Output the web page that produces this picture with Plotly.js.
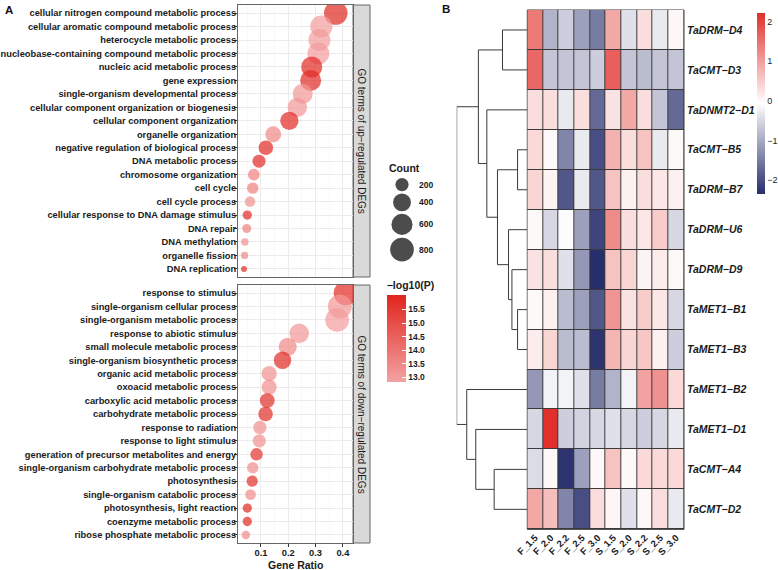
<!DOCTYPE html>
<html>
<head>
<meta charset="utf-8">
<script src="https://cdn.plot.ly/plotly-3.0.1.min.js"></script>
<style>html,body{margin:0;padding:0;background:#fff;} #chart{width:778px;height:570px;}</style>
</head>
<body>
<div id="chart"></div>
<script>
// ---------- Panel A data ----------
const upTerms = ["cellular nitrogen compound metabolic process","cellular aromatic compound metabolic process","heterocycle metabolic process","nucleobase-containing compound metabolic process","nucleic acid metabolic process","gene expression","single-organism developmental process","cellular component organization or biogenesis","cellular component organization","organelle organization","negative regulation of biological process","DNA metabolic process","chromosome organization","cell cycle","cell cycle process","cellular response to DNA damage stimulus","DNA repair","DNA methylation","organelle fission","DNA replication"];
const upRatio = [0.374,0.321,0.314,0.310,0.286,0.282,0.253,0.233,0.204,0.145,0.118,0.093,0.074,0.070,0.060,0.050,0.048,0.041,0.040,0.038];
const upCount = [785,674,659,651,600,592,531,489,428,305,248,195,155,147,126,105,101,86,84,80];
const upLogP = [16.0,13.0,13.0,13.0,15.9,15.9,13.1,13.1,15.9,13.5,15.9,15.9,13.7,13.7,13.3,15.9,13.7,13.3,13.5,15.9];

const downTerms = ["response to stimulus","single-organism cellular process","single-organism metabolic process","response to abiotic stimulus","small molecule metabolic process","single-organism biosynthetic process","organic acid metabolic process","oxoacid metabolic process","carboxylic acid metabolic process","carbohydrate metabolic process","response to radiation","response to light stimulus","generation of precursor metabolites and energy","single-organism carbohydrate metabolic process","photosynthesis","single-organism catabolic process","photosynthesis, light reaction","coenzyme metabolic process","ribose phosphate metabolic process"];
const downRatio = [0.411,0.389,0.379,0.240,0.198,0.179,0.130,0.130,0.123,0.117,0.096,0.094,0.084,0.070,0.068,0.062,0.050,0.050,0.045];
const downCount = [863,817,796,504,416,376,273,273,258,246,202,197,176,147,143,130,105,105,95];
const downLogP = [15.9,13.1,13.0,13.1,13.5,15.9,13.3,13.3,15.8,15.8,13.3,13.3,15.7,13.4,15.8,13.4,15.9,15.9,13.4];

const countLegend = [200,400,600,800];
const ratioTicks = [0.1,0.2,0.3,0.4];
const logPTicks = [13.0,13.5,14.0,14.5,15.0,15.5];

// ---------- Panel B data ----------
const genes = ["TaDRM−D4","TaCMT−D3","TaDNMT2−D1","TaCMT−B5","TaDRM−B7","TaDRM−U6","TaDRM−D9","TaMET1−B1","TaMET1−B3","TaMET1−B2","TaMET1−D1","TaCMT−A4","TaCMT−D2"];
const samples = ["F_1.5","F_2.0","F_2.2","F_2.5","F_3.0","S_1.5","S_2.0","S_2.2","S_2.5","S_3.0"];
const expr = [
 [1.4,-0.9,-0.6,-1.1,-1.5,0.9,-0.4,0.3,-0.3,0.02],
 [1.6,-0.7,-0.7,-0.7,-0.6,1.7,-0.7,-0.8,-0.7,-0.7],
 [0.3,0.3,-0.3,0.3,-1.7,0.25,0.9,0.3,-0.7,-1.7],
 [0.35,0.0,-1.4,-0.3,-2.0,0.8,0.3,0.6,-0.3,0.0],
 [0.4,0.05,-1.9,-0.3,-1.9,0.6,0.1,0.3,0.2,0.1],
 [0.0,-0.5,-0.1,-1.1,-2.1,1.2,0.3,0.2,0.5,-0.5],
 [0.25,0.3,-0.4,-1.2,-2.35,0.6,0.4,0.05,0.15,0.0],
 [0.0,0.1,-0.8,-1.1,-1.9,1.1,0.25,0.5,0.2,-0.5],
 [0.15,0.4,-0.8,-0.8,-2.3,0.75,0.4,0.55,0.1,-0.6],
 [-1.2,-0.2,-0.2,-0.4,-1.5,-0.9,-0.2,0.95,1.15,0.35],
 [-0.5,2.22,-0.6,-0.55,-0.5,-0.4,-0.5,-0.6,-0.5,-0.3],
 [-0.45,0.02,-2.3,-1.1,0.02,0.6,0.0,0.35,0.35,0.35],
 [0.9,0.65,-1.4,-2.0,0.3,0.03,-0.4,0.02,0.3,-0.3]
];
const heatTicks = [-2,-1,0,1,2];
// hclust-style merges: negative = leaf (row index+1), positive = earlier merge (1-based)
const mergeA = [-1,-4,-8,-7,-6,2,-3,1,-12,-11,-10,8];
const mergeB = [-2,-5,-9,3,4,5,6,7,-13,9,10,11];
const mergeH = [2.47,0.97,0.97,1.53,1.87,2.97,4.03,4.87,3.30,5.13,6.03,7.03];

// ---------- helpers ----------
const W = 778, H = 570;
const PX = p => p / W;
const PY = p => 1 - p / H;
const FONT = "Liberation Sans, Arial, sans-serif";

const allCounts = upCount.concat(downCount);
const cMin = Math.min(...allCounts), cMax = Math.max(...allCounts);
const sizeScale = c => 6 + 18.5 * Math.sqrt(Math.max(0, (c - cMin) / (cMax - cMin)));

// ---------- traces ----------
const traces = [];
traces.push({type:'scatter', mode:'markers', x:upRatio, y:upTerms, xaxis:'x', yaxis:'y',
  marker:{size:upCount.map(sizeScale), color:upLogP, coloraxis:'coloraxis', line:{width:0}}, hoverinfo:'skip'});
traces.push({type:'scatter', mode:'markers', x:downRatio, y:downTerms, xaxis:'x2', yaxis:'y2',
  marker:{size:downCount.map(sizeScale), color:downLogP, coloraxis:'coloraxis', line:{width:0}}, hoverinfo:'skip'});

// size legend (positions computed from key sizes)
const legSizes = countLegend.map(sizeScale);
const legY = [];
let acc = 0;
legSizes.forEach((d,i) => { if (i === 0) acc = d/2 + 2; else acc += (legSizes[i-1] + d)/2 * 1.08 + 1; legY.push(acc); });
traces.push({type:'scatter', mode:'markers', x:countLegend.map(()=>0), y:legY, xaxis:'x5', yaxis:'y5',
  marker:{size:legSizes, color:'#000', line:{width:0}}, hoverinfo:'skip', cliponaxis:false});

// heatmap
const zAll = [].concat(...expr);
const zMin = Math.min(...zAll), zMax = Math.max(...zAll);
traces.push({type:'heatmap', z:expr, x:samples, y:genes, xaxis:'x3', yaxis:'y3', zmin:zMin, zmax:zMax,
  colorscale:[[0,'#272E6C'],[0.5,'#FFFFFF'],[1,'#E1302B']], xgap:1, ygap:1, hoverinfo:'skip',
  colorbar:{x:PX(757), xanchor:'left', xpad:0, y:PY(194), yanchor:'bottom', ypad:0, len:181, lenmode:'pixels', thickness:8,
    outlinewidth:0, tickvals:heatTicks, ticktext:heatTicks.map(v => v<0 ? '−'+Math.abs(v) : String(v)),
    ticks:'', ticklabelstandoff:-1, tickfont:{family:FONT, size:9, color:'#222'}}});

// dendrogram from merges
const nodeY = [], nodeH = [];
function childPos(c){ if (c < 0) return {y: -c - 1, h: 0}; return {y: nodeY[c-1], h: nodeH[c-1]}; }
const dx = [], dy = [];
for (let k = 0; k < mergeA.length; k++) {
  const a = childPos(mergeA[k]), b = childPos(mergeB[k]);
  const h = mergeH[k];
  nodeY.push((a.y + b.y)/2); nodeH.push(h);
  dx.push(a.h, h, h, b.h, null); dy.push(a.y, a.y, b.y, b.y, null);
}
traces.push({type:'scatter', mode:'lines', x:dx, y:dy, xaxis:'x4', yaxis:'y4',
  line:{color:'#3a3a3a', width:1}, hoverinfo:'skip', connectgaps:false, cliponaxis:false});

// ---------- layout ----------
const tickFontA = {family:FONT, size:9.3, color:'#1a1a1a', weight:'bold'};
const gridC = '#EBEBEB';
const xRangeA = [0.016, 0.437];
const yTop = [5, 277], yBot = [285, 543];
const commonY = {type:'category', showgrid:true, gridcolor:gridC, gridwidth:1, ticks:'outside', ticklen:3, tickcolor:'#333',
  tickfont:tickFontA, ticklabelstandoff:-4, showline:true, mirror:true, linecolor:'#666', linewidth:1, zeroline:false, fixedrange:true};
const commonX = {range:xRangeA, showgrid:true, gridcolor:gridC, gridwidth:1, zeroline:false, showline:true, mirror:true,
  linecolor:'#666', linewidth:1, tickvals:ratioTicks, minor:{dtick:0.05, tick0:0.05, showgrid:true, gridcolor:'#F3F3F3', gridwidth:0.6}};

const layout = {
  width:W, height:H, margin:{l:0,r:0,t:0,b:0,autoexpand:false}, paper_bgcolor:'#fff', plot_bgcolor:'rgba(0,0,0,0)',
  showlegend:false, font:{family:FONT, color:'#1a1a1a'},
  xaxis: Object.assign({}, commonX, {domain:[PX(238), PX(353)], anchor:'y', showticklabels:false, ticks:''}),
  yaxis: Object.assign({}, commonY, {domain:[PY(yTop[1]), PY(yTop[0])], anchor:'x', categoryorder:'array', categoryarray:upTerms,
    range:[upTerms.length - 1 + 0.6, -0.6]}),
  xaxis2: Object.assign({}, commonX, {domain:[PX(238), PX(353)], anchor:'y2', ticks:'outside', ticklen:3, tickcolor:'#333',
    tickfont:{family:FONT, size:9.3, color:'#1a1a1a', weight:'bold'}, tickformat:'.1f', ticklabelstandoff:-2}),
  yaxis2: Object.assign({}, commonY, {domain:[PY(yBot[1]), PY(yBot[0])], anchor:'x2', categoryorder:'array', categoryarray:downTerms,
    range:[downTerms.length - 1 + 0.6, -0.6]}),
  xaxis3: {domain:[PX(527.3), PX(684)], anchor:'y3', type:'category', range:[-0.5, samples.length - 0.5], tickangle:-45, ticks:'',
    showgrid:false, zeroline:false, showline:false, tickfont:{family:FONT, size:9.5, color:'#1a1a1a', weight:'bold'}, fixedrange:true},
  yaxis3: {domain:[PY(529.3), PY(10)], anchor:'x3', type:'category', side:'right', range:[genes.length - 0.5, -0.5], ticks:'',
    showgrid:false, zeroline:false, showline:false, tickfont:{family:FONT, size:10.5, color:'#1a1a1a', weight:'bold', style:'italic'},
    ticklabelstandoff:2, fixedrange:true},
  xaxis4: {domain:[PX(456.7), PX(527.3)], anchor:'y4', range:[Math.max(...mergeH), 0], visible:false, fixedrange:true},
  yaxis4: {domain:[PY(529.3), PY(10)], anchor:'x4', range:[genes.length - 0.5, -0.5], visible:false, fixedrange:true},
  xaxis5: {domain:[PX(390), PX(414)], anchor:'y5', range:[-1, 1], visible:false, fixedrange:true},
  yaxis5: {domain:[PY(262), PY(176)], anchor:'x5', range:[86, 0], visible:false, fixedrange:true},
  coloraxis: {cmin:12.83, cmax:16.03, colorscale:[[0,'#F4A2A2'],[1,'#E0251D']],
    colorbar:{x:PX(386.7), xanchor:'left', xpad:0, y:PY(382), yanchor:'bottom', ypad:0, len:104, lenmode:'pixels', thickness:19, outlinewidth:0,
      tickvals:logPTicks, ticktext:logPTicks.map(v => v.toFixed(1)), ticks:'inside', ticklen:4, tickcolor:'#fff', tickwidth:1,
      tickfont:{family:FONT, size:8.5, color:'#1a1a1a', weight:'bold'},
      title:{text:'<b>−log10(P)</b>', side:'top', font:{family:FONT, size:10.5, color:'#1a1a1a'}}}},
  shapes: [
    {type:'rect', xref:'paper', yref:'paper', x0:PX(353), x1:PX(370), y0:PY(yTop[1]), y1:PY(yTop[0]), fillcolor:'#D9D9D9', line:{color:'#666', width:1}, layer:'below'},
    {type:'rect', xref:'paper', yref:'paper', x0:PX(353), x1:PX(370), y0:PY(yBot[1]), y1:PY(yBot[0]), fillcolor:'#D9D9D9', line:{color:'#666', width:1}, layer:'below'},
    {type:'rect', xref:'paper', yref:'paper', x0:PX(527.3), x1:PX(684), y0:PY(529.3), y1:PY(10), fillcolor:'#3a3a3a', line:{color:'#3a3a3a', width:1}, layer:'below'}
  ],
  annotations: [
    {text:'<b>A</b>', xref:'paper', yref:'paper', x:PX(3), y:PY(2), xanchor:'left', yanchor:'top', showarrow:false, font:{family:FONT, size:11.5, color:'#111'}},
    {text:'<b>B</b>', xref:'paper', yref:'paper', x:PX(440), y:PY(1), xanchor:'left', yanchor:'top', showarrow:false, font:{family:FONT, size:11.5, color:'#111'}},
    {text:'GO terms of up−regulated DEGs', xref:'paper', yref:'paper', x:PX(361.5), y:PY((yTop[0]+yTop[1])/2), xanchor:'center', yanchor:'middle', textangle:90, showarrow:false, font:{family:FONT, size:10, color:'#1a1a1a'}},
    {text:'GO terms of down−regulated DEGs', xref:'paper', yref:'paper', x:PX(361.5), y:PY((yBot[0]+yBot[1])/2), xanchor:'center', yanchor:'middle', textangle:90, showarrow:false, font:{family:FONT, size:10, color:'#1a1a1a'}},
    {text:'<b>Gene Ratio</b>', xref:'paper', yref:'paper', x:PX(295.5), y:PY(565), yanchor:'middle', showarrow:false, font:{family:FONT, size:10.5, color:'#1a1a1a'}},
    {text:'<b>Count</b>', xref:'paper', yref:'paper', x:PX(387), y:PY(168), xanchor:'left', yanchor:'middle', showarrow:false, font:{family:FONT, size:10.5, color:'#1a1a1a'}}
  ].concat(countLegend.map((v,i) => ({text:'<b>'+v+'</b>', xref:'paper', yref:'y5', x:PX(417), y:legY[i], xanchor:'left', yanchor:'middle', showarrow:false,
      font:{family:FONT, size:8.5, color:'#1a1a1a'}})))
};

Plotly.newPlot('chart', traces, layout, {staticPlot:true, displayModeBar:false});
</script>
</body>
</html>
